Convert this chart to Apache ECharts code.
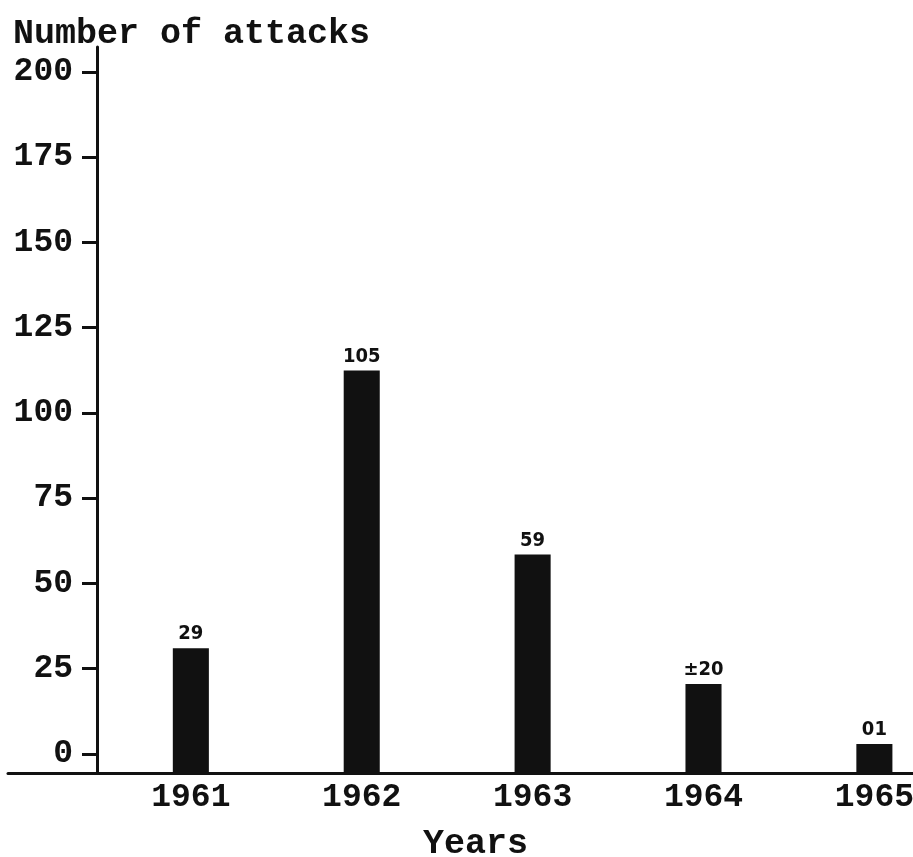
<!DOCTYPE html>
<html>
<head>
<meta charset="utf-8">
<script src="https://cdn.jsdelivr.net/npm/echarts@6/dist/echarts.min.js"></script>
<style>
html,body{margin:0;padding:0;background:#fff;}
#chart{width:913px;height:857px;}
</style>
</head>
<body>
<div id="chart"></div>
<script>
// Data
const years = [1961, 1962, 1963, 1964, 1965];
const barHeights = [31, 112.4, 58.5, 20.5, 2.9];      // drawn bar heights on the y scale
const barNotes = ['29', '105', '59', '±20', '01'];     // handwritten annotations above bars
const yTickValues = [0, 25, 50, 75, 100, 125, 150, 175, 200];

const Y_MIN = -5.6, Y_MAX = 207.3;
const X_MIN = 1959.93, X_MAX = 1965.226;
const BAR_W_YEARS = 0.211;
const INK = '#111';
const MONO = '"Liberation Mono", "DejaVu Sans Mono", monospace';

const chart = echarts.init(document.getElementById('chart'));
chart.setOption({
  backgroundColor: '#fff',
  animation: false,
  title: [
    { text: 'Number of attacks', left: 8, top: 12,
      textStyle: { fontFamily: MONO, fontWeight: 'bold', fontSize: 35, color: INK } },
    { text: 'Years', left: 418, top: 822,
      textStyle: { fontFamily: MONO, fontWeight: 'bold', fontSize: 35, color: INK } }
  ],
  grid: { left: 8, right: 0, top: 47, bottom: 84, containLabel: false, outerBoundsMode: 'none' },
  xAxis: {
    type: 'value', min: X_MIN, max: X_MAX,
    axisLine: { show: true, onZero: false, lineStyle: { color: INK, width: 3 } },
    axisTick: { show: false },
    splitLine: { show: false },
    axisLabel: {
      customValues: years, margin: 8,
      fontFamily: MONO, fontWeight: 'bold', fontSize: 33, color: INK,
      formatter: v => String(Math.round(v))
    }
  },
  yAxis: {
    type: 'value', min: Y_MIN, max: Y_MAX, offset: -89,
    axisLine: { show: true, onZero: false, lineStyle: { color: INK, width: 3 } },
    axisTick: { show: true, customValues: yTickValues, length: 15, lineStyle: { color: INK, width: 3 } },
    splitLine: { show: false },
    axisLabel: {
      customValues: yTickValues, margin: 24,
      fontFamily: MONO, fontWeight: 'bold', fontSize: 33, color: INK
    }
  },
  series: [{
    type: 'custom',
    data: years.map((y, i) => [y, barHeights[i], barNotes[i]]),
    renderItem: function (params, api) {
      const x = api.value(0), v = api.value(1);
      const top = api.coord([x, v]);
      const base = api.coord([x, Y_MIN]);
      const w = api.size([BAR_W_YEARS, 0])[0];
      return {
        type: 'rect',
        shape: { x: top[0] - w / 2, y: top[1], width: w, height: base[1] - top[1] },
        style: { fill: INK },
        textContent: {
          style: { text: barNotes[params.dataIndex], fontFamily: '"DejaVu Sans Condensed", "DejaVu Sans", sans-serif',
                   fontSize: 20, fontWeight: 'bold', fill: INK }
        },
        textConfig: { position: 'top', distance: 4 }
      };
    }
  }]
});
</script>
</body>
</html>
